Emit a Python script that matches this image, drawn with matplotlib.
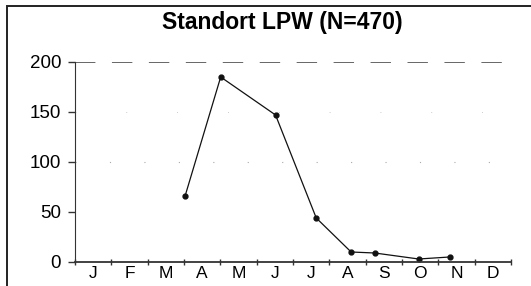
import matplotlib.pyplot as plt
from matplotlib.patches import Rectangle

# Monate und Messwerte (Position in Monaten ab Jahresbeginn)
months = ['J', 'F', 'M', 'A', 'M', 'J', 'J', 'A', 'S', 'O', 'N', 'D']
sample_pos = [3.03, 4.01, 5.52, 6.64, 7.60, 8.25, 9.46, 10.31]
counts = [66, 185, 147, 44, 10, 9, 3, 5]
y_ticks = [0, 50, 100, 150, 200]

plt.rcParams['font.family'] = ['Liberation Sans', 'DejaVu Sans']

fig = plt.figure(figsize=(5.31, 2.86), dpi=100)
ax = fig.add_axes([75 / 531, 24 / 286, 436 / 531, 200 / 286])

# Rahmen um die Abbildung
fig.patches.append(Rectangle((7 / 531, -0.1), 1.0, 1 - 6 / 286 + 0.1,
                             transform=fig.transFigure, fill=False,
                             edgecolor='#222222', linewidth=1.4))

ax.plot(sample_pos, counts, color='#111111', linewidth=0.9,
        marker='o', markersize=3.5)

# gestrichelte Linie bei 200 und schwache Punktlinie bei 100
ax.axhline(200, color='#666666', linewidth=1.4, dashes=(10.5, 8.5))
ax.axhline(100, color='#aaaaaa', linewidth=0.8, dashes=(1, 30))
ax.axhline(150, color='#bbbbbb', linewidth=0.6, dashes=(1, 60))

ax.set_xlim(0, 12)
ax.set_ylim(0, 200)
ax.set_yticks(y_ticks)
ax.set_xticks(range(13))
ax.set_xticklabels([])
ax.set_xticks([i + 0.5 for i in range(12)], minor=True)
ax.set_xticklabels(months, minor=True)

ax.tick_params(axis='x', which='major', direction='inout', length=5,
               width=1, color='#333333')
ax.tick_params(axis='x', which='minor', length=0, labelsize=12.5, pad=3)
ax.tick_params(axis='y', direction='out', length=5, width=1,
               color='#333333', labelsize=13.5, pad=5)

for side in ['top', 'right']:
    ax.spines[side].set_visible(False)
ax.spines['left'].set_color('#333333')
ax.spines['bottom'].set_color('#333333')
ax.spines['bottom'].set_linewidth(1.3)

fig.text(282 / 531, 1 - 23 / 286, 'Standort LPW (N=470)', ha='center',
         va='center', fontsize=16.5, fontweight='bold')

fig.savefig('out.png', dpi=100)
